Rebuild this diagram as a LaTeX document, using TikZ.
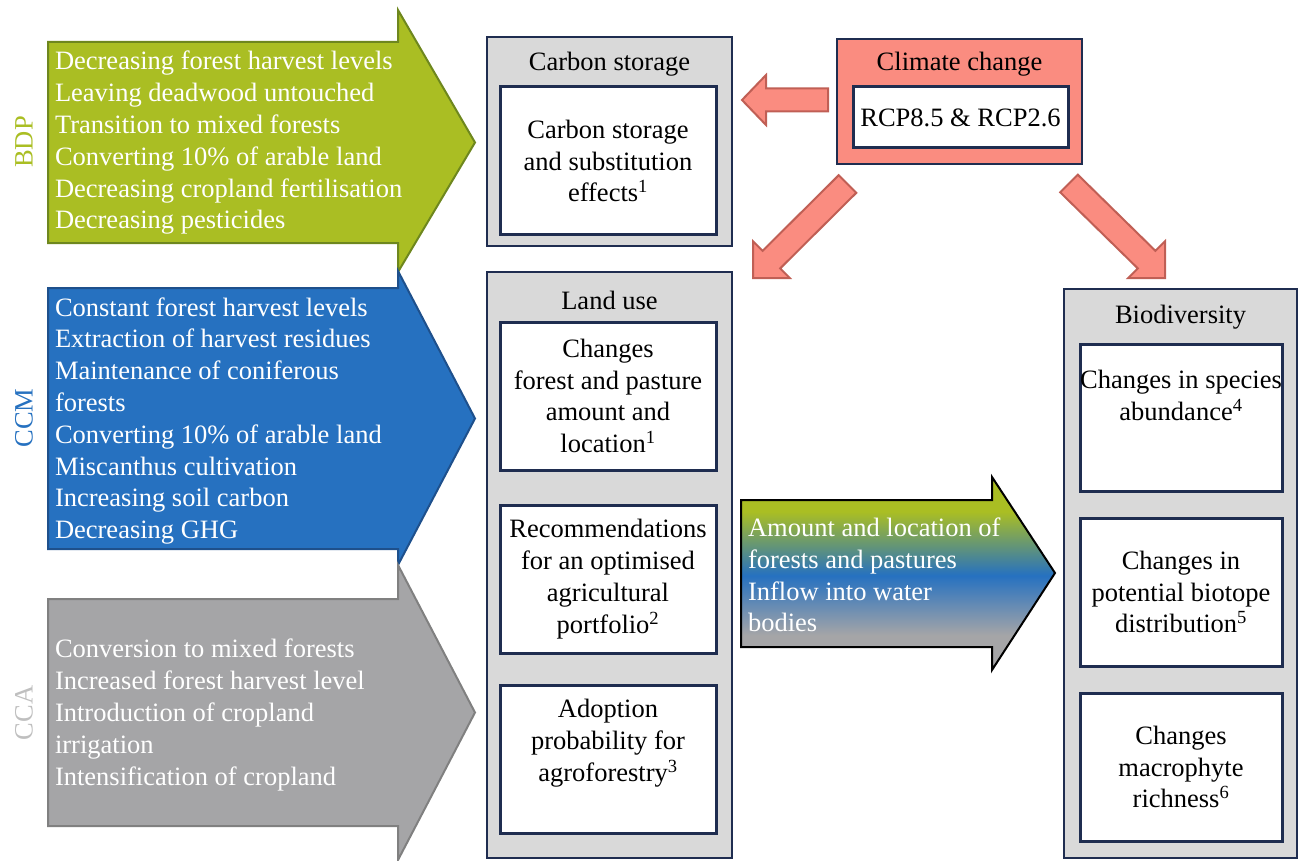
\documentclass[tikz,border=0pt]{standalone}
\usepackage{fontspec}
\setmainfont{Liberation Serif}
\definecolor{bdpgreen}{RGB}{170,190,35}
\definecolor{bdpedge}{RGB}{110,135,30}
\definecolor{ccmblue}{RGB}{38,113,192}
\definecolor{ccmedge}{RGB}{30,80,140}
\definecolor{ccagray}{RGB}{165,165,167}
\definecolor{ccaedge}{RGB}{128,128,128}
\definecolor{ccalabel}{RGB}{191,191,191}
\definecolor{salmon}{RGB}{250,140,128}
\definecolor{salmonedge}{RGB}{192,95,85}
\definecolor{navy}{RGB}{31,45,80}
\definecolor{boxgray}{RGB}{217,217,217}
\pgfdeclareverticalshading{mixshade}{100bp}{color(0bp)=(ccagray); color(34bp)=(ccagray); color(49.5bp)=(ccmblue); color(66bp)=(bdpgreen); color(100bp)=(bdpgreen)}
\begin{document}
\begin{tikzpicture}[x=1pt,y=-1pt,
  every node/.style={font=\fontsize{26.5}{31.8}\selectfont, inner sep=0pt, outer sep=0pt},
  listtext/.style={align=left, text=white, anchor=west},
  outerbox/.style={draw=navy, line width=2.5pt, fill=boxgray, anchor=north west},
  innerbox/.style={draw=navy, line width=3pt, fill=white, anchor=north west, align=center},
  bigarrow/.style={line width=2pt, line join=miter},
  salarrow/.style={fill=salmon, draw=salmonedge, line width=2pt, line join=miter},
  sidelabel/.style={rotate=90}
]
\useasboundingbox (0,0) rectangle (1309,861);

% left scenario arrows
\draw[bigarrow, fill=bdpgreen, draw=bdpedge] (48,42) -- (398,42) -- (398,10) -- (475,142.5) -- (398,272) -- (398,243) -- (48,243) -- cycle;
\draw[bigarrow, fill=ccmblue, draw=ccmedge] (48,288) -- (398,288) -- (398,271) -- (475,418.5) -- (398,565) -- (398,549) -- (48,549) -- cycle;
\draw[bigarrow, fill=ccagray, draw=ccaedge] (48,599) -- (398,599) -- (398,565) -- (475,712.5) -- (398,860) -- (398,826) -- (48,826) -- cycle;

\node[sidelabel, text=bdpgreen] (lbdp) at (24,142) {BDP};
\node[sidelabel, text=ccmblue] (lccm) at (24,418) {CCM};
\node[sidelabel, text=ccalabel] (lcca) at (24,713) {CCA};

\node[listtext] (tbdp) at (55,143) {Decreasing forest harvest levels\\Leaving deadwood untouched\\Transition to mixed forests\\Converting 10\% of arable land\\Decreasing cropland fertilisation\\Decreasing pesticides};
\node[listtext] (tccm) at (55,421) {Constant forest harvest levels\\Extraction of harvest residues\\Maintenance of coniferous\\forests\\Converting 10\% of arable land\\Miscanthus cultivation\\Increasing soil carbon\\Decreasing GHG};
\node[listtext] (tcca) at (55,715) {Conversion to mixed forests\\Increased forest harvest level\\Introduction of cropland\\irrigation\\Intensification of cropland};

% carbon storage
\node[outerbox, minimum width=245pt, minimum height=209pt] (cs) at (487,37) {};
\node (cst) at (609.5,64) {Carbon storage};
\node[innerbox, minimum width=216pt, minimum height=148pt] (cs1) at (500,87) {Carbon storage\\and substitution\\effects\textsuperscript{1}};

% land use
\node[outerbox, minimum width=245pt, minimum height=586pt] (lu) at (487,272) {};
\node (lut) at (609.5,300) {Land use};
\node[innerbox, minimum width=216pt, minimum height=148pt] (lu1) at (500,322) {Changes\\forest and pasture\\amount and\\location\textsuperscript{1}};
\node[innerbox, minimum width=216pt, minimum height=148pt] (lu2) at (500,505) {Recommendations\\for an optimised\\agricultural\\portfolio\textsuperscript{2}};
\node[innerbox, minimum width=216pt, minimum height=148pt] (lu3) at (500,685) {Adoption\\probability for\\agroforestry\textsuperscript{3}\\[6pt]};

% biodiversity
\node[outerbox, minimum width=233pt, minimum height=569pt] (bd) at (1064,289) {};
\node (bdt) at (1180.5,317) {Biodiversity};
\node[innerbox, minimum width=202pt, minimum height=147pt] (bd1) at (1080,344) {Changes in species\\abundance\textsuperscript{4}\\[12pt]};
\node[innerbox, minimum width=202pt, minimum height=148pt] (bd2) at (1080,518) {Changes in\\potential biotope\\distribution\textsuperscript{5}};
\node[innerbox, minimum width=202pt, minimum height=148pt] (bd3) at (1080,693) {Changes\\macrophyte\\richness\textsuperscript{6}};

% climate change
\node[outerbox, fill=salmon, minimum width=245pt, minimum height=125pt] (cc) at (837,39) {};
\node (cct) at (959.5,64) {Climate change};
\node[innerbox, minimum width=215pt, minimum height=61pt] (cc1) at (853,87) {RCP8.5 \& RCP2.6};

% salmon arrows
\draw[salarrow] (828,88.5) -- (766,88.5) -- (766,75) -- (742,100) -- (766,125) -- (766,111.5) -- (828,111.5) -- cycle;
\draw[salarrow] (838.7,175.2) -- (856.3,192.8) -- (780.2,268.4) -- (789.8,278) -- (753,278) -- (753,241.2) -- (762.6,250.8) -- cycle;
\draw[salarrow] (1060.2,192.3) -- (1077.8,174.7) -- (1155.4,250.8) -- (1165,241.2) -- (1165,278) -- (1128.2,278) -- (1137.8,268.4) -- cycle;

% gradient arrow
\shadedraw[shading=mixshade, draw=black, line width=2pt, line join=miter] (741,500) -- (992,500) -- (992,477) -- (1055,573) -- (992,670) -- (992,647) -- (741,647) -- cycle;
\node[listtext] (tmid) at (748,575) {Amount and location of\\forests and pastures\\Inflow into water\\bodies};
\end{tikzpicture}
\end{document}
